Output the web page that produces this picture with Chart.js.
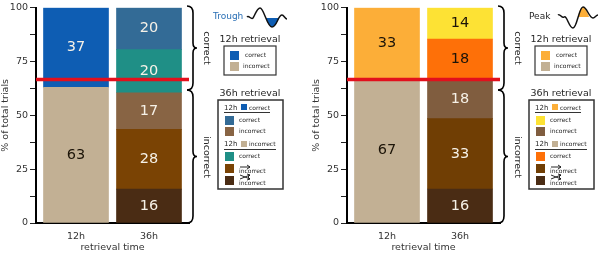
<!DOCTYPE html>
<html>
<head>
<meta charset="utf-8">
<script src="https://cdn.jsdelivr.net/npm/chart.js@4"></script>
<style>
  html, body { margin: 0; padding: 0; background: #fff; }
  #page { position: relative; width: 602px; height: 256px; overflow: hidden; }
  canvas { position: absolute; top: 0; }
  svg { position: absolute; left: 0; top: 0; }
  svg text { font-family: 'DejaVu Sans', sans-serif; fill: #262626; }
</style>
</head>
<body>
<div id="page">
  <canvas id="trough" width="205" height="256" style="left:0"></canvas>
  <canvas id="peak" width="205" height="256" style="left:311px"></canvas>
  <svg id="side" width="602" height="256"></svg>
</div>
<script>
const timeLabels = ['12h', '36h'];
const yTicksLabelled = [0, 25, 50, 75, 100];
const chanceLevel = 66.6;

const TAN = '#c2b094', BROWN = '#7a4304', DARK = '#4a2c14';

const trough12 = [63, 37];
const trough12Labels = ['63', '37'];
const trough12Colors = [TAN, '#0e5db3'];
const trough36 = [15.7, 27.8, 17, 20, 19.5];
const trough36Labels = ['16', '28', '17', '20', '20'];
const trough36Colors = [DARK, BROWN, '#886444', '#1f8f86', '#336b96'];

const peak12 = [67, 33];
const peak12Labels = ['67', '33'];
const peak12Colors = [TAN, '#fcae38'];
const peak36 = [15.8, 32.7, 18.3, 18.6, 14.6];
const peak36Labels = ['16', '33', '18', '18', '14'];
const peak36Colors = [DARK, '#703e04', '#805d3f', '#fe7008', '#fde234'];

const darkText = ['#0e5db3', BROWN, DARK, '#886444', '#805d3f', '#703e04', '#1f8f86', '#336b96'];

function series(xIndex, values, labels, colors) {
  return values.map((v, i) => ({
    data: [{ x: xIndex, y: v }],
    backgroundColor: colors[i],
    label: labels[i],
    barThickness: 65
  }));
}

// value text in the middle of every segment, red line on top
const overlay = {
  id: 'overlay',
  afterDatasetsDraw(chart) {
    const ctx = chart.ctx;
    ctx.save();
    ctx.font = "14.5px 'DejaVu Sans'";
    ctx.textAlign = 'center';
    ctx.textBaseline = 'middle';
    chart.data.datasets.forEach((ds, i) => {
      const bar = chart.getDatasetMeta(i).data[0];
      ctx.fillStyle = darkText.includes(ds.backgroundColor) ? '#f6f1e7' : '#1c1408';
      ctx.fillText(ds.label, bar.x, (bar.y + bar.base) / 2);
    });
    const y = chart.scales.y.getPixelForValue(chanceLevel);
    ctx.strokeStyle = '#e2101c';
    ctx.lineWidth = 3.5;
    ctx.beginPath();
    ctx.moveTo(chart.chartArea.left, y);
    ctx.lineTo(chart.chartArea.right, y);
    ctx.stroke();
    ctx.restore();
  }
};

function drawPanel(id, datasets) {
  new Chart(document.getElementById(id), {
    type: 'bar',
    data: { datasets },
    plugins: [overlay],
    options: {
      responsive: false,
      animation: false,
      layout: { padding: { top: 6, right: 16 } },
      plugins: { legend: { display: false }, tooltip: { enabled: false } },
      scales: {
        x: {
          type: 'linear',
          stacked: true,
          offset: false,
          min: -0.548,
          max: 1.548,
          afterBuildTicks: (s) => { s.ticks = [{ value: 0 }, { value: 1 }]; },
          afterFit: (s) => { s.height = 33; },
          grid: { offset: false, drawOnChartArea: false, drawTicks: false },
          border: { color: '#000', width: 2 },
          ticks: {
            color: '#333',
            font: { family: 'DejaVu Sans', size: 9.5 },
            padding: 8,
            callback: (v) => timeLabels[v]
          },
          title: {
            display: true,
            text: 'retrieval time',
            color: '#333',
            font: { family: 'DejaVu Sans', size: 9.5 },
            padding: { top: 0, bottom: 3 }
          }
        },
        y: {
          stacked: true,
          min: 0,
          max: 100,
          afterFit: (s) => { s.width = 36; },
          grid: { drawOnChartArea: false, tickLength: 6, tickColor: '#222', tickWidth: 1 },
          border: { color: '#000', width: 2 },
          ticks: {
            stepSize: 12.5,
            color: '#333',
            font: { family: 'DejaVu Sans', size: 9.5 },
            padding: 2,
            callback: (v) => yTicksLabelled.includes(v) ? String(v) : ''
          },
          title: {
            display: true,
            text: '% of total trials',
            color: '#333',
            font: { family: 'DejaVu Sans', size: 9.5 },
            padding: { top: 0, bottom: 0 }
          }
        }
      }
    }
  });
}

drawPanel('trough', series(0, trough12, trough12Labels, trough12Colors)
  .concat(series(1, trough36, trough36Labels, trough36Colors)));
drawPanel('peak', series(0, peak12, peak12Labels, peak12Colors)
  .concat(series(1, peak36, peak36Labels, peak36Colors)));

// braces, wavelet icons and the little legends beside each panel
const side = document.getElementById('side');
let svg = '';

function text(x, y, s, size, extra) {
  svg += `<text x="${x}" y="${y}" font-size="${size}" dominant-baseline="middle" ${extra || ''}>${s}</text>`;
}
function rect(x, y, w, h, fill) {
  svg += `<rect x="${x}" y="${y}" width="${w}" height="${h}" fill="${fill}"/>`;
}
function brace(dx, y0, y1) {
  const m = (y0 + y1) / 2, x = dx + 193;
  svg += `<path d="M${dx + 187} ${y0} Q${x} ${y0} ${x} ${y0 + 7} L${x} ${m - 5} Q${x} ${m} ${dx + 197} ${m} Q${x} ${m} ${x} ${m + 5} L${x} ${y1 - 7} Q${x} ${y1} ${dx + 187} ${y1}" fill="none" stroke="#000" stroke-width="1.6"/>`;
}
function sideLabel(dx, y, s) {
  const x = dx + 206;
  text(x, y, s, 9.5, `text-anchor="middle" transform="rotate(90 ${x} ${y})"`);
}
function legends(dx, colors12, colors36) {
  text(dx + 250, 39, '12h retrieval', 9.5, 'text-anchor="middle"');
  svg += `<rect x="${dx + 224}" y="46" width="52" height="29" fill="none" stroke="#333" stroke-width="1.2"/>`;
  rect(dx + 230, 51, 9, 9, colors12[1]);
  rect(dx + 230, 62, 9, 9, colors12[0]);
  text(dx + 245, 55, 'correct', 6);
  text(dx + 243, 66, 'incorrect', 6);

  text(dx + 250, 93, '36h retrieval', 9.5, 'text-anchor="middle"');
  svg += `<rect x="${dx + 218}" y="100" width="65" height="89" fill="none" stroke="#333" stroke-width="1.5"/>`;

  text(dx + 224, 108, '12h', 7);
  rect(dx + 241, 104, 6, 6, colors12[1]);
  text(dx + 249, 108, 'correct', 6);
  rect(dx + 224, 112, 46, 1, '#333');
  rect(dx + 225, 116, 9, 9, colors36[4]);
  rect(dx + 225, 127, 9, 9, colors36[2]);
  text(dx + 239, 120, 'correct', 6);
  text(dx + 239, 131, 'incorrect', 6);

  text(dx + 224, 144, '12h', 7);
  rect(dx + 241, 141, 6, 6, colors12[0]);
  text(dx + 249, 144, 'incorrect', 6);
  rect(dx + 224, 149, 52, 1, '#333');
  rect(dx + 225, 152, 9, 9, colors36[3]);
  rect(dx + 225, 164, 9, 9, colors36[1]);
  rect(dx + 225, 176, 9, 9, colors36[0]);
  text(dx + 239, 156, 'correct', 6);
  text(dx + 239, 171, 'incorrect', 6);
  text(dx + 239, 183, 'incorrect', 6);

  // straight arrow and crossed arrows above the last two rows
  const a = 'fill="none" stroke="#111" stroke-width="0.9"';
  svg += `<path d="M${dx + 240} 167 H${dx + 250} M${dx + 247} 165 L${dx + 250} 167 L${dx + 247} 169" ${a}/>`;
  svg += `<path d="M${dx + 240} 175 L${dx + 250} 179 M${dx + 240} 179 L${dx + 250} 175 M${dx + 247} 174 L${dx + 250} 175 L${dx + 248} 177 M${dx + 247} 180 L${dx + 250} 179 L${dx + 248} 177" ${a}/>`;
}

[0, 311].forEach((dx) => {
  brace(dx, 6, 90);
  brace(dx, 90, 223);
  sideLabel(dx, 48, 'correct');
  sideLabel(dx, 157, 'incorrect');
});

text(213, 16, 'Trough', 9, 'style="fill:#2a6fb5"');
svg += '<path d="M266 18 C268 24 270 27 272 27 C274 27 277 23 279 18 Z" fill="#0e5db3"/>';
svg += '<path d="M247 17 C249 15 251 20 253 18 C255 15 257 8 260 8 C264 8 267 27 272 27 C277 27 278 15 282 15 C284 15 285 19 287 19" fill="none" stroke="#111" stroke-width="1.5"/>';

text(529, 16, 'Peak', 9);
svg += '<path d="M578 17 C579 11 581 7 583 7 C585 7 587 11 589 17 Z" fill="#fcae38"/>';
svg += '<path d="M558 15 C560 13 562 19 564 17 C567 15 569 28 573 28 C577 28 579 7 583 7 C587 7 589 18 593 18 C595 18 596 15 598 15" fill="none" stroke="#111" stroke-width="1.5"/>';

legends(0, trough12Colors, trough36Colors);
legends(311, peak12Colors, peak36Colors);
side.innerHTML = svg;
</script>
</body>
</html>
